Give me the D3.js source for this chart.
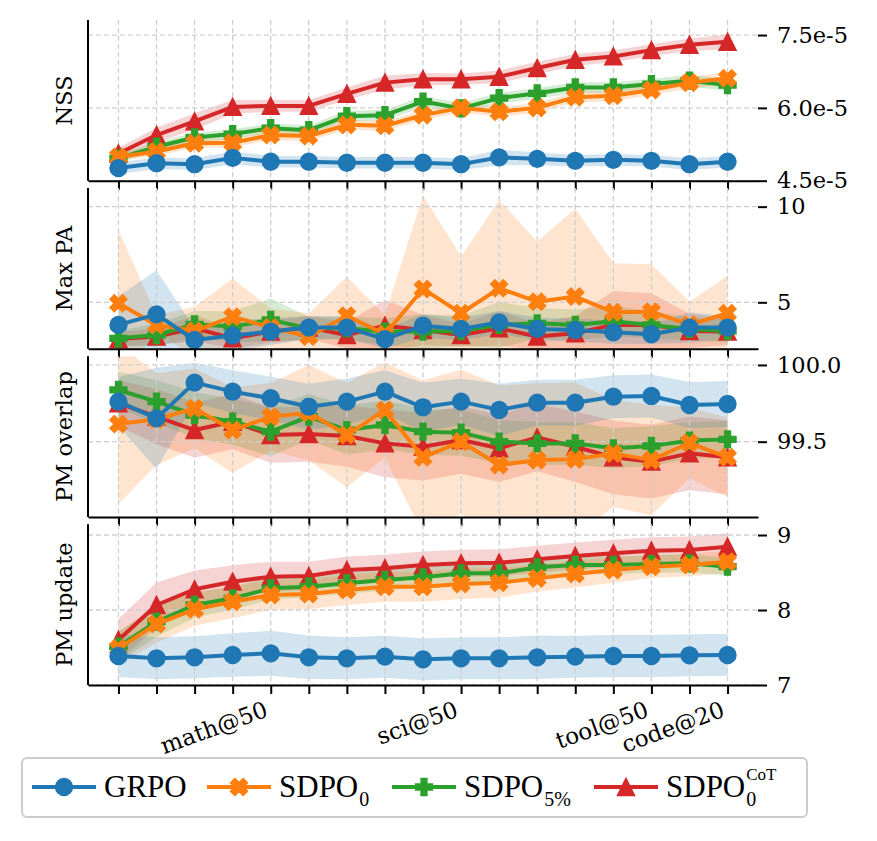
<!DOCTYPE html>
<html>
<head>
<meta charset="utf-8">
<script src="https://cdn.jsdelivr.net/npm/d3@7"></script>
<style>
  body { margin: 0; background: #fff; }
  svg { display: block; font-family: "DejaVu Serif", serif; }
</style>
</head>
<body>
<div id="chart"></div>
<script>
// x positions (training checkpoints) and their labels
var steps = [0, 1, 2, 3, 4, 5, 6, 7, 8, 9, 10, 11, 12, 13, 14, 15, 16];
var xTickLabels = ["", "", "", "", "math@50", "", "", "", "", "sci@50", "", "", "", "", "tool@50", "", "code@20"];

// NSS
var nssGRPO  = [4.76e-5, 4.86e-5, 4.84e-5, 4.97e-5, 4.89e-5, 4.89e-5, 4.87e-5, 4.87e-5, 4.87e-5, 4.84e-5, 4.98e-5, 4.95e-5, 4.91e-5, 4.93e-5, 4.91e-5, 4.84e-5, 4.89e-5];
var nssSDPO0 = [4.99e-5, 5.10e-5, 5.27e-5, 5.28e-5, 5.44e-5, 5.42e-5, 5.65e-5, 5.63e-5, 5.85e-5, 6.00e-5, 5.92e-5, 6.00e-5, 6.22e-5, 6.25e-5, 6.37e-5, 6.52e-5, 6.61e-5];
var nssSDPO5 = [4.96e-5, 5.20e-5, 5.39e-5, 5.46e-5, 5.58e-5, 5.54e-5, 5.83e-5, 5.85e-5, 6.13e-5, 5.99e-5, 6.20e-5, 6.30e-5, 6.42e-5, 6.42e-5, 6.49e-5, 6.56e-5, 6.47e-5];
var nssCoT   = [5.06e-5, 5.44e-5, 5.72e-5, 6.02e-5, 6.04e-5, 6.04e-5, 6.29e-5, 6.52e-5, 6.59e-5, 6.59e-5, 6.64e-5, 6.82e-5, 6.99e-5, 7.06e-5, 7.19e-5, 7.30e-5, 7.36e-5];
var nssGRPOStd  = [0.12e-5, 0.12e-5, 0.12e-5, 0.13e-5, 0.12e-5, 0.12e-5, 0.12e-5, 0.12e-5, 0.12e-5, 0.12e-5, 0.16e-5, 0.13e-5, 0.12e-5, 0.12e-5, 0.12e-5, 0.12e-5, 0.12e-5];
var nssSDPO0Std = [0.08e-5, 0.09e-5, 0.09e-5, 0.09e-5, 0.10e-5, 0.10e-5, 0.10e-5, 0.10e-5, 0.10e-5, 0.10e-5, 0.10e-5, 0.10e-5, 0.11e-5, 0.11e-5, 0.11e-5, 0.12e-5, 0.12e-5];
var nssSDPO5Std = [0.08e-5, 0.10e-5, 0.10e-5, 0.10e-5, 0.10e-5, 0.10e-5, 0.11e-5, 0.11e-5, 0.11e-5, 0.11e-5, 0.11e-5, 0.11e-5, 0.11e-5, 0.11e-5, 0.11e-5, 0.12e-5, 0.12e-5];
var nssCoTStd   = [0.12e-5, 0.15e-5, 0.17e-5, 0.14e-5, 0.12e-5, 0.12e-5, 0.13e-5, 0.14e-5, 0.13e-5, 0.12e-5, 0.13e-5, 0.13e-5, 0.12e-5, 0.12e-5, 0.12e-5, 0.13e-5, 0.15e-5];

// Max PA
var paGRPO  = [3.82, 4.37, 3.03, 3.26, 3.47, 3.68, 3.68, 3.08, 3.78, 3.61, 3.95, 3.61, 3.55, 3.43, 3.33, 3.68, 3.68];
var paSDPO0 = [4.95, 3.82, 3.50, 4.25, 3.68, 3.21, 4.30, 3.33, 5.70, 4.43, 5.73, 5.03, 5.30, 4.48, 4.51, 3.82, 4.43];
var paSDPO5 = [3.12, 3.29, 3.85, 3.73, 4.08, 3.64, 3.64, 3.47, 3.47, 3.50, 3.82, 3.90, 3.82, 4.01, 3.82, 3.61, 3.50];
var paCoT   = [3.08, 3.21, 3.64, 3.12, 3.47, 3.68, 3.29, 3.78, 3.55, 3.29, 3.64, 3.21, 3.38, 3.82, 3.82, 3.50, 3.47];
var paGRPOStd  = [1.5, 2.3, 0.6, 0.8, 0.7, 0.6, 0.6, 0.5, 0.6, 0.6, 0.6, 0.6, 0.6, 0.6, 0.5, 0.8, 0.6];
var paSDPO0Std = [3.83, 0.5, 1.27, 2.0, 1.0, 1.2, 2.04, 1.0, 4.9, 2.96, 4.62, 3.14, 4.61, 2.56, 2.48, 1.21, 1.96];
var paSDPO5Std = [0.4, 0.6, 0.7, 0.8, 1.13, 0.6, 0.6, 0.7, 0.9, 0.8, 1.2, 0.8, 0.8, 0.8, 0.7, 0.6, 0.6];
var paCoTStd   = [0.4, 0.4, 0.7, 0.5, 0.6, 0.6, 0.7, 1.34, 0.8, 0.6, 0.9, 0.7, 0.9, 1.77, 1.65, 0.9, 0.7];

// PM overlap
var ovGRPO  = [99.761, 99.652, 99.885, 99.826, 99.783, 99.728, 99.761, 99.826, 99.724, 99.761, 99.707, 99.754, 99.754, 99.793, 99.798, 99.739, 99.746];
var ovSDPO0 = [99.615, 99.646, 99.717, 99.576, 99.663, 99.689, 99.543, 99.707, 99.398, 99.500, 99.348, 99.380, 99.385, 99.424, 99.380, 99.493, 99.398];
var ovSDPO5 = [99.837, 99.761, 99.674, 99.630, 99.565, 99.663, 99.576, 99.609, 99.565, 99.559, 99.500, 99.489, 99.489, 99.457, 99.472, 99.507, 99.515];
var ovCoT   = [99.750, 99.663, 99.576, 99.630, 99.543, 99.550, 99.537, 99.489, 99.467, 99.511, 99.457, 99.528, 99.467, 99.398, 99.370, 99.424, 99.398];
var ovGRPOStd  = [0.16, 0.33, 0.13, 0.14, 0.14, 0.15, 0.15, 0.14, 0.16, 0.15, 0.17, 0.15, 0.15, 0.14, 0.14, 0.15, 0.15];
var ovSDPO0Std = [0.52, 0.30, 0.26, 0.28, 0.22, 0.31, 0.34, 0.31, 0.50, 0.47, 0.52, 0.50, 0.50, 0.35, 0.36, 0.23, 0.26];
var ovSDPO5Std = [0.12, 0.14, 0.15, 0.15, 0.16, 0.15, 0.16, 0.16, 0.15, 0.15, 0.14, 0.14, 0.14, 0.13, 0.13, 0.12, 0.12];
var ovCoTStd   = [0.15, 0.18, 0.18, 0.18, 0.18, 0.18, 0.20, 0.22, 0.22, 0.22, 0.22, 0.22, 0.23, 0.24, 0.24, 0.24, 0.24];

// PM update
var upGRPO  = [7.387, 7.356, 7.369, 7.400, 7.422, 7.369, 7.356, 7.378, 7.342, 7.356, 7.356, 7.369, 7.378, 7.387, 7.387, 7.396, 7.400];
var upSDPO0 = [7.489, 7.813, 8.009, 8.111, 8.200, 8.213, 8.267, 8.311, 8.311, 8.347, 8.364, 8.422, 8.480, 8.533, 8.578, 8.600, 8.644];
var upSDPO5 = [7.511, 7.844, 8.067, 8.156, 8.289, 8.311, 8.356, 8.400, 8.436, 8.489, 8.489, 8.569, 8.600, 8.600, 8.613, 8.622, 8.578];
var upCoT   = [7.600, 8.067, 8.276, 8.378, 8.444, 8.453, 8.533, 8.556, 8.600, 8.622, 8.631, 8.676, 8.720, 8.756, 8.791, 8.800, 8.844];
var upGRPOStd  = [0.28, 0.28, 0.28, 0.29, 0.30, 0.29, 0.28, 0.28, 0.28, 0.28, 0.28, 0.29, 0.28, 0.28, 0.28, 0.28, 0.28];
var upSDPO0Std = [0.22, 0.25, 0.22, 0.22, 0.20, 0.20, 0.20, 0.20, 0.20, 0.20, 0.20, 0.18, 0.18, 0.17, 0.15, 0.15, 0.15];
var upSDPO5Std = [0.20, 0.20, 0.17, 0.15, 0.15, 0.14, 0.14, 0.14, 0.13, 0.13, 0.13, 0.12, 0.12, 0.12, 0.12, 0.12, 0.12];
var upCoTStd   = [0.28, 0.30, 0.25, 0.22, 0.20, 0.19, 0.18, 0.18, 0.18, 0.18, 0.18, 0.18, 0.18, 0.18, 0.18, 0.18, 0.18];

// series: GRPO, SDPO_0, SDPO_5%, SDPO_0^CoT
var colors = ["#1f77b4", "#ff7f0e", "#2ca02c", "#d62728"];
var markers = ["circle", "x", "plus", "triangle"];

var panels = [
  { label: "NSS", means: [nssGRPO, nssSDPO0, nssSDPO5, nssCoT], stds: [nssGRPOStd, nssSDPO0Std, nssSDPO5Std, nssCoTStd],
    domain: [4.5e-5, 7.81e-5], ticks: [4.5e-5, 6.0e-5, 7.5e-5], fmt: d3.format(".1e") },
  { label: "Max PA", means: [paGRPO, paSDPO0, paSDPO5, paCoT], stds: [paGRPOStd, paSDPO0Std, paSDPO5Std, paCoTStd],
    domain: [2.57, 10.97], ticks: [5, 10], fmt: d3.format("d") },
  { label: "PM overlap", means: [ovGRPO, ovSDPO0, ovSDPO5, ovCoT], stds: [ovGRPOStd, ovSDPO0Std, ovSDPO5Std, ovCoTStd],
    domain: [99.01, 100.057], ticks: [99.5, 100.0], fmt: d3.format(".1f") },
  { label: "PM update", means: [upGRPO, upSDPO0, upSDPO5, upCoT], stds: [upGRPOStd, upSDPO0Std, upSDPO5Std, upCoTStd],
    domain: [7.0, 9.143], ticks: [7, 8, 9], fmt: d3.format("d") }
];

// layout
var width = 877, height = 841;
var left = 88, right = 758;
var panelTops = [20, 188.1, 356.2, 524.3];
var panelH = 160.7;
var fontSize = 22.5;
var markerSize = 16.5;

var svg = d3.select("#chart").append("svg")
  .attr("width", width)
  .attr("height", height);

var x = d3.scaleLinear().domain([-0.8, 16.8]).range([left, right]);

function markerPath(kind, s) {
  var pts;
  if (kind === "circle") {
    var r = s / 2;
    return "M" + r + ",0A" + r + "," + r + " 0 1,1 " + (-r) + ",0A" + r + "," + r + " 0 1,1 " + r + ",0Z";
  }
  if (kind === "triangle") {
    pts = [[0, -1], [-1, 1], [1, 1]].map(p => [p[0] * s / 2, p[1] * s / 2]);
  } else if (kind === "x") {
    pts = [[-1, -2], [0, -1], [1, -2], [2, -1], [1, 0], [2, 1], [1, 2], [0, 1], [-1, 2], [-2, 1], [-1, 0], [-2, -1]]
      .map(p => [p[0] * s / 4, p[1] * s / 4]);
  } else {
    pts = [[-1, -3], [1, -3], [1, -1], [3, -1], [3, 1], [1, 1], [1, 3], [-1, 3], [-1, 1], [-3, 1], [-3, -1], [-1, -1]]
      .map(p => [p[0] * s / 6, p[1] * s / 6]);
  }
  return "M" + pts.map(p => p[0].toFixed(2) + "," + p[1].toFixed(2)).join("L") + "Z";
}

// draw order of lines: red, green, orange, blue on top
var drawOrder = [3, 2, 1, 0];

panels.forEach(function(p, pi) {
  var g = svg.append("g").attr("transform", "translate(0," + panelTops[pi] + ")");
  var y = d3.scaleLinear().domain(p.domain).range([panelH, 0]);

  var clipId = "clip" + pi;
  g.append("clipPath").attr("id", clipId)
    .append("rect")
    .attr("x", left).attr("y", 0)
    .attr("width", right - left).attr("height", panelH);

  // shaded bands
  var bands = g.append("g").attr("clip-path", "url(#" + clipId + ")");
  drawOrder.forEach(function(si) {
    var m = p.means[si], s = p.stds[si];
    var area = d3.area()
      .x(function(d, i) { return x(steps[i]); })
      .y0(function(d, i) { return y(m[i] - s[i]); })
      .y1(function(d, i) { return y(m[i] + s[i]); });
    bands.append("path")
      .attr("d", area(m))
      .attr("fill", colors[si])
      .attr("fill-opacity", 0.2);
  });

  // grid
  var grid = g.append("g")
    .attr("stroke", "#cfcfcf")
    .attr("stroke-width", 1.3)
    .attr("stroke-dasharray", "5,3");
  grid.selectAll(".vg").data(steps).enter().append("line")
    .attr("x1", d => x(d)).attr("x2", d => x(d))
    .attr("y1", 0).attr("y2", panelH);
  grid.selectAll(".hg").data(p.ticks).enter().append("line")
    .attr("x1", left).attr("x2", right)
    .attr("y1", d => y(d)).attr("y2", d => y(d));

  // lines and markers
  drawOrder.forEach(function(si) {
    var m = p.means[si];
    var line = d3.line()
      .x(function(d, i) { return x(steps[i]); })
      .y(function(d) { return y(d); });
    g.append("path")
      .attr("d", line(m))
      .attr("fill", "none")
      .attr("stroke", colors[si])
      .attr("stroke-width", 4)
      .attr("stroke-linejoin", "round");
    g.selectAll(".mk" + si).data(m).enter().append("path")
      .attr("transform", (d, i) => "translate(" + x(steps[i]) + "," + y(d) + ")")
      .attr("d", markerPath(markers[si], markerSize))
      .attr("fill", colors[si])
      .attr("stroke", colors[si])
      .attr("stroke-width", 1.8)
      .attr("stroke-linejoin", "miter");
  });

  // left spine
  g.append("line")
    .attr("x1", left).attr("x2", left)
    .attr("y1", 0).attr("y2", panelH)
    .attr("stroke", "#000").attr("stroke-width", 2);

  // bottom axis
  var isLast = pi === panels.length - 1;
  var xAxis = d3.axisBottom(x)
    .tickValues(steps)
    .tickSize(9)
    .tickSizeOuter(0)
    .tickFormat(function(d, i) { return isLast ? xTickLabels[i] : ""; });
  var xg = g.append("g")
    .attr("transform", "translate(0," + panelH + ")")
    .call(xAxis);
  xg.select(".domain").attr("stroke-width", 2);
  xg.selectAll(".tick line").attr("stroke-width", 2);
  xg.selectAll(".tick text")
    .attr("font-family", "DejaVu Serif")
    .attr("font-size", fontSize + 0.5)
    .attr("y", 0).attr("dy", 0)
    .attr("text-anchor", "end")
    .attr("transform", "translate(-2,31) rotate(-20)");

  // right axis
  var yAxis = d3.axisRight(y)
    .tickValues(p.ticks)
    .tickSize(9)
    .tickPadding(10)
    .tickFormat(p.fmt);
  var yg = g.append("g")
    .attr("transform", "translate(" + right + ",0)")
    .call(yAxis);
  yg.select(".domain").remove();
  yg.selectAll(".tick line").attr("stroke-width", 2);
  yg.selectAll(".tick text")
    .attr("font-family", "DejaVu Serif")
    .attr("font-size", fontSize);

  // y label
  g.append("text")
    .attr("transform", "translate(72," + (panelH / 2) + ") rotate(-90)")
    .attr("text-anchor", "middle")
    .attr("font-size", fontSize)
    .text(p.label);
});

// legend
var legend = svg.append("g");
legend.append("rect")
  .attr("x", 22).attr("y", 758)
  .attr("width", 785).attr("height", 59)
  .attr("rx", 5)
  .attr("fill", "#fff")
  .attr("stroke", "#cccccc")
  .attr("stroke-width", 2);

var legendX = [32, 207, 392, 594];
var legendNames = ["GRPO", "SDPO", "SDPO", "SDPO"];
var legendSubs = [null, "0", "5%", "0"];
var legendSups = [null, null, null, "CoT"];
var legendFont = "Liberation Serif";
var legendSize = 31;

legendNames.forEach(function(name, si) {
  var lx = legendX[si], ly = 787;
  legend.append("line")
    .attr("x1", lx).attr("x2", lx + 64)
    .attr("y1", ly).attr("y2", ly)
    .attr("stroke", colors[si]).attr("stroke-width", 4);
  legend.append("path")
    .attr("transform", "translate(" + (lx + 32) + "," + ly + ")")
    .attr("d", markerPath(markers[si], markerSize))
    .attr("fill", colors[si])
    .attr("stroke", colors[si])
    .attr("stroke-width", 1.8);
  var t = legend.append("text")
    .attr("x", lx + 72).attr("y", 797)
    .attr("font-family", legendFont)
    .attr("font-size", legendSize)
    .text(name);
  var w = t.node().getComputedTextLength();
  if (legendSubs[si]) {
    legend.append("text")
      .attr("x", lx + 72 + w + 1).attr("y", 806)
      .attr("font-family", legendFont)
      .attr("font-size", 20)
      .text(legendSubs[si]);
  }
  if (legendSups[si]) {
    legend.append("text")
      .attr("x", lx + 72 + w + 1).attr("y", 780)
      .attr("font-family", legendFont)
      .attr("font-size", 17)
      .text(legendSups[si]);
  }
});
</script>
</body>
</html>
